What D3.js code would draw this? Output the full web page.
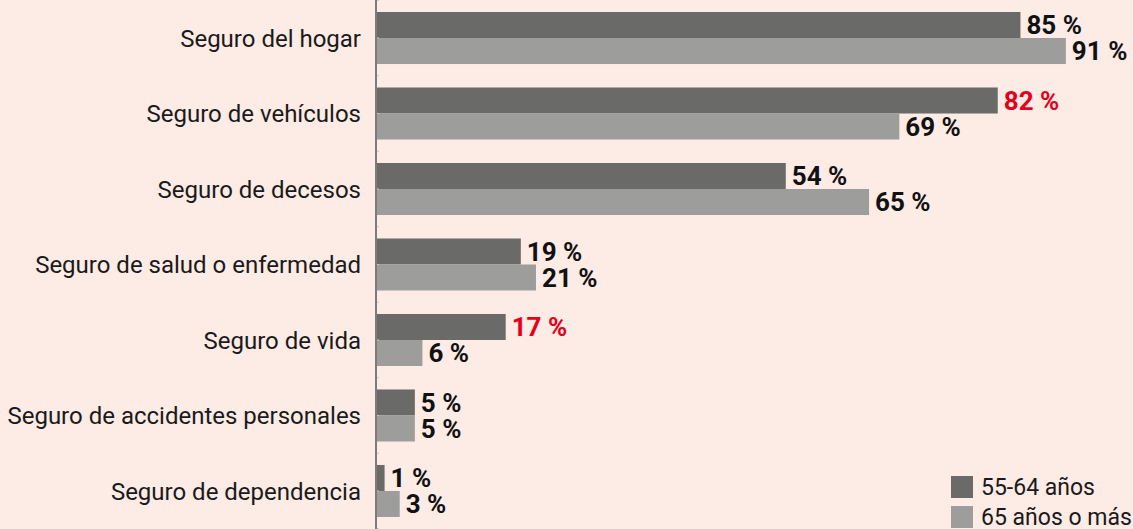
<!DOCTYPE html>
<html>
<head>
<meta charset="utf-8">
<script src="https://cdn.jsdelivr.net/npm/d3@7"></script>
<style>
  html, body { margin: 0; padding: 0; background: #fdebe5; }
  svg { display: block; }
</style>
</head>
<body>
<svg></svg>
<script>
// datos
var categories = [
  "Seguro del hogar",
  "Seguro de vehículos",
  "Seguro de decesos",
  "Seguro de salud o enfermedad",
  "Seguro de vida",
  "Seguro de accidentes personales",
  "Seguro de dependencia"
];
var seriesNames = ["55-64 años", "65 años o más"];
var edad55a64 = [85, 82, 54, 19, 17, 5, 1];
var edad65mas = [91, 69, 65, 21, 6, 5, 3];
// valores resaltados en rojo (serie 55-64)
var destacados = ["Seguro de vehículos", "Seguro de vida"];

var width = 1133, height = 529;
var svg = d3.select("svg").attr("width", width).attr("height", height);

var colores = ["#6a6a68", "#9d9d9b"];
var rojo = "#e2001a";
var fuente = "Roboto, 'DejaVu Sans', sans-serif";

var x = d3.scaleLinear().domain([0, 100]).range([377, 1134]);

var y = d3.scaleBand()
  .domain(categories)
  .range([0.25, 528.75])
  .paddingInner(0.311)
  .paddingOuter(0.1557);

var ySub = d3.scaleBand().domain([0, 1]).range([0, y.bandwidth()]);

var rows = categories.map(function (c, i) {
  return { cat: c, values: [edad55a64[i], edad65mas[i]] };
});

// barras
var grupo = svg.selectAll("g.grupo")
  .data(rows)
  .enter().append("g")
  .attr("class", "grupo")
  .attr("transform", function (d) { return "translate(0," + y(d.cat) + ")"; });

grupo.selectAll("rect")
  .data(function (d) { return d.values.map(function (v, j) { return { v: v, j: j, cat: d.cat }; }); })
  .enter().append("rect")
  .attr("x", x(0))
  .attr("y", function (d) { return ySub(d.j); })
  .attr("width", function (d) { return x(d.v) - x(0); })
  .attr("height", ySub.bandwidth())
  .attr("fill", function (d) { return colores[d.j]; });

grupo.selectAll("text.valor")
  .data(function (d) { return d.values.map(function (v, j) { return { v: v, j: j, cat: d.cat }; }); })
  .enter().append("text")
  .attr("class", "valor")
  .attr("x", function (d) { return x(d.v) + 6; })
  .attr("y", function (d) { return ySub(d.j) + ySub.bandwidth() / 2; })
  .attr("dy", "0.36em")
  .attr("font-family", fuente)
  .attr("font-weight", "bold")
  .attr("font-size", 26)
  .attr("fill", function (d) {
    return d.j === 0 && destacados.indexOf(d.cat) >= 0 ? rojo : "#111";
  })
  .text(function (d) { return d.v + " %"; });

// eje vertical
var eje = svg.append("g");
eje.append("line")
  .attr("x1", 376).attr("x2", 376)
  .attr("y1", 0).attr("y2", height)
  .attr("stroke", "#7b7b7b")
  .attr("stroke-width", 2);

// marcas tenues
var marcas = d3.range(0, categories.length * 2 + 1).map(function (k) {
  return y.range()[0] + k * y.step() / 2;
});
eje.selectAll("line.marca")
  .data(marcas)
  .enter().append("line")
  .attr("class", "marca")
  .attr("x1", 377).attr("x2", 379)
  .attr("y1", function (d) { return d; })
  .attr("y2", function (d) { return d; })
  .attr("stroke", "#c9c2bf")
  .attr("stroke-width", 1);

// etiquetas de categorías
svg.selectAll("text.cat")
  .data(categories)
  .enter().append("text")
  .attr("class", "cat")
  .attr("x", 361)
  .attr("y", function (d) { return y(d) + y.bandwidth() / 2; })
  .attr("dy", "0.36em")
  .attr("text-anchor", "end")
  .attr("font-family", fuente)
  .attr("font-size", 24)
  .attr("fill", "#1a1a1a")
  .text(function (d) { return d; });

// leyenda
var leyenda = svg.append("g").attr("transform", "translate(951,476)");
var item = leyenda.selectAll("g")
  .data(seriesNames)
  .enter().append("g")
  .attr("transform", function (d, i) { return "translate(0," + i * 30 + ")"; });
item.append("rect")
  .attr("width", 22).attr("height", 22)
  .attr("fill", function (d, i) { return colores[i]; });
item.append("text")
  .attr("x", 30).attr("y", 11)
  .attr("dy", "0.36em")
  .attr("font-family", fuente)
  .attr("font-size", 23)
  .attr("fill", "#1a1a1a")
  .text(function (d) { return d; });
</script>
</body>
</html>
